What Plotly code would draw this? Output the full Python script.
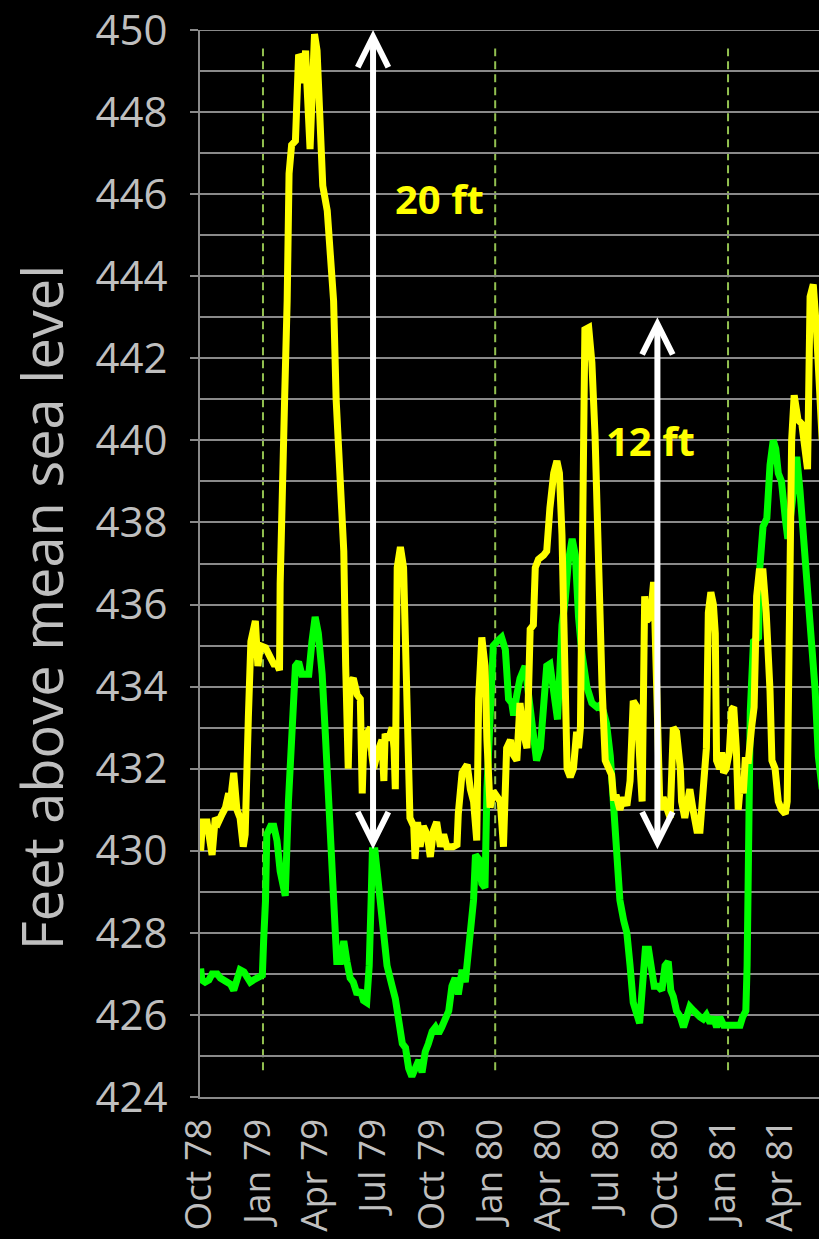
import pandas as pd
import plotly.graph_objects as go

# Day offsets from 1 Oct 1978 and lake levels (feet above mean sea level)
yellow_days = [-6, -3, 4, 12, 17, 22, 28, 33, 38, 41, 43, 46, 51, 56, 61, 64, 69, 73, 80, 82, 84, 88,
               96, 104, 109, 114, 118, 119, 122, 126, 130, 133, 137, 143, 148, 152, 155, 159, 161, 166,
               169, 173, 177, 182, 186, 193, 195, 203, 207, 214, 219, 222, 224, 226, 229, 234, 240, 245,
               248, 250, 255, 261, 263, 266, 272, 279, 282, 284, 289, 295, 298, 300, 303, 308, 313, 318,
               323, 329, 331, 335, 339, 344, 350, 355, 360, 365, 371, 376, 381, 386, 391, 397, 399, 405,
               413, 418, 423, 428, 431, 436, 441, 444, 446, 449, 454, 460, 465, 470, 475, 481, 483, 491,
               496, 501, 507, 512, 517, 520, 525, 533, 538, 543, 549, 554, 558, 562, 567, 570, 575, 580,
               585, 588, 591, 595, 598, 604, 609, 614, 619, 625, 630, 635, 640, 643, 648, 653, 659, 664,
               669, 674, 680, 685, 688, 692, 695, 701, 706, 708, 712, 716, 721, 727, 732, 737, 742, 748,
               750, 755, 763, 768, 774, 779, 784, 789, 792, 796, 800, 803, 805, 810, 813, 816, 820, 825,
               829, 832, 836, 839, 843, 847, 850, 855, 860, 864, 868, 872, 878, 883, 889, 892, 897, 902,
               907, 913, 916, 919, 923, 927, 931, 933, 939, 944, 948, 952, 957, 962, 965, 971]
yellow_level = [430.0, 430.7, 430.7, 429.9, 430.8, 430.7, 430.9, 431.05, 431.4, 431.0, 431.5, 431.9,
                431.0, 430.8, 430.1, 430.4, 433.25, 435.1, 435.6, 435.1, 434.5, 435.0, 434.95, 434.7,
                434.55, 434.55, 434.4, 436.5, 438.0, 441.0, 443.4, 446.5, 447.2, 447.3, 449.4, 449.3,
                448.7, 449.5, 448.7, 447.1, 448.3, 449.9, 449.5, 447.4, 446.2, 445.6, 445.0, 443.4,
                441.0, 438.5, 437.3, 434.5, 432.0, 432.0, 434.1, 434.2, 433.8, 433.7, 431.4, 432.4,
                432.85, 433.0, 432.35, 432.0, 432.4, 432.7, 431.7, 432.85, 432.7, 433.0, 432.5, 431.5,
                436.9, 437.4, 436.9, 434.5, 430.8, 430.6, 429.8, 430.7, 430.1, 430.6, 430.4, 429.85,
                430.5, 430.7, 430.1, 430.4, 430.1, 430.1, 430.1, 430.15, 430.9, 431.9, 432.1, 431.5,
                431.2, 430.25, 433.7, 435.2, 434.5, 432.7, 432.0, 431.05, 431.45, 431.3, 431.2, 430.1,
                432.5, 432.7, 432.4, 432.2, 433.6, 432.9, 432.5, 435.4, 435.5, 436.9, 437.1, 437.2,
                437.3, 438.35, 439.2, 439.5, 439.2, 437.7, 434.45, 432.0, 431.8, 432.0, 432.9, 432.5,
                433.0, 440.1, 442.7, 442.75, 441.9, 440.1, 436.9, 434.0, 432.2, 432.0, 431.85, 431.3,
                431.3, 431.0, 431.3, 431.1, 431.7, 433.65, 433.5, 432.0, 431.2, 436.2, 435.6, 435.7,
                436.55, 435.6, 433.0, 431.0, 431.3, 431.05, 430.8, 433.0, 432.9, 432.0, 431.2, 430.8,
                431.5, 431.0, 430.5, 430.5, 431.4, 432.5, 435.8, 436.3, 436.0, 435.3, 432.2, 432.0,
                432.4, 431.9, 432.0, 432.4, 433.45, 433.5, 432.5, 431.0, 431.7, 431.4, 432.2, 432.2,
                433.0, 433.5, 436.2, 436.8, 436.8, 435.8, 433.9, 432.2, 432.0, 431.2, 431.0, 430.9,
                431.2, 436.2, 440.0, 441.1, 440.8, 440.5, 440.4, 439.8, 439.3, 443.5, 443.8, 442.7,
                441.5, 440.0]

green_days = [-6, -4, 1, 7, 12, 20, 25, 30, 36, 41, 46, 51, 56, 62, 67, 72, 77, 83, 91, 93, 96, 98,
              104, 109, 114, 119, 124, 127, 132, 138, 143, 148, 153, 159, 164, 169, 174, 179, 185, 190,
              195, 200, 204, 208, 214, 219, 224, 229, 234, 240, 245, 250, 255, 259, 262, 264, 268, 273,
              276, 282, 287, 295, 300, 305, 311, 316, 321, 326, 331, 337, 342, 347, 352, 358, 363, 368,
              373, 378, 384, 389, 394, 399, 405, 410, 415, 420, 423, 426, 431, 436, 441, 444, 449, 454,
              460, 467, 473, 478, 483, 486, 491, 496, 504, 509, 517, 522, 528, 533, 538, 543, 549, 555,
              559, 562, 567, 572, 578, 583, 588, 593, 601, 609, 617, 622, 627, 632, 638, 643, 648, 653,
              659, 664, 669, 674, 680, 684, 687, 693, 698, 703, 707, 713, 719, 724, 729, 733, 737, 742,
              748, 753, 758, 763, 769, 774, 779, 784, 789, 795, 800, 805, 810, 816, 821, 826, 831, 837,
              842, 846, 851, 853, 855, 858, 863, 871, 873, 878, 884, 886, 889, 894, 898, 902, 907, 913,
              917, 924, 931, 936, 941, 947, 954, 960, 965, 971]
green_level = [427.13, 426.85, 426.8, 426.85, 427.0, 427.0, 426.9, 426.85, 426.8, 426.75, 426.6, 426.85,
               427.1, 427.05, 426.95, 426.8, 426.85, 426.9, 426.97, 427.8, 428.8, 430.4, 430.6, 430.6,
               430.25, 429.5, 429.1, 428.9, 431.2, 432.85, 434.5, 434.6, 434.3, 434.3, 434.3, 435.1,
               435.7, 435.3, 434.3, 432.85, 431.2, 429.6, 428.6, 427.3, 427.3, 427.8, 427.3, 426.9,
               426.8, 426.5, 426.6, 426.35, 426.3, 427.2, 428.8, 430.0, 430.0, 429.3, 428.8, 427.8,
               427.2, 426.7, 426.4, 425.9, 425.3, 425.2, 424.7, 424.5, 424.7, 424.9, 424.6, 425.1,
               425.3, 425.6, 425.7, 425.55, 425.7, 425.9, 426.1, 426.7, 426.9, 426.5, 427.1, 426.8,
               427.5, 428.0, 428.8, 429.9, 429.8, 429.2, 429.1, 431.5, 433.6, 435.0, 435.1, 435.2,
               434.9, 433.7, 433.6, 433.3, 433.8, 434.2, 434.5, 433.8, 432.8, 432.2, 432.5, 433.65,
               434.5, 434.55, 434.0, 433.2, 434.5, 435.5, 436.1, 437.05, 437.6, 437.2, 435.7, 434.85,
               434.0, 433.6, 433.5, 433.55, 433.4, 433.1, 432.3, 431.2, 430.0, 428.8, 428.3, 428.0,
               427.2, 426.3, 426.0, 425.8, 426.4, 427.6, 427.6, 427.0, 426.7, 426.7, 426.6, 427.2,
               427.3, 426.6, 426.45, 426.1, 425.95, 425.7, 425.9, 426.2, 426.1, 426.0, 425.95, 425.9,
               426.0, 425.8, 425.95, 425.7, 425.95, 425.75, 425.75, 425.75, 425.75, 425.75, 425.75,
               425.95, 426.1, 427.2, 430.5, 433.4, 435.1, 435.2, 436.9, 437.9, 438.1, 438.9, 439.4,
               440.0, 439.8, 439.2, 439.0, 438.1, 437.6, 438.5, 439.6, 438.8, 437.8, 436.2, 434.8,
               433.9, 432.3, 431.5]

range_days = [-7, 966]
y_range = [424, 450]
y_ticks = [424, 426, 428, 430, 432, 434, 436, 438, 440, 442, 444, 446, 448, 450]
year_marks = ["1979-01-01", "1980-01-01", "1981-01-01"]
arrows = [  # (date, low, high, label, label_date, label_y)
    ("1979-06-23", 430, 450, "20 ft", "1979-10-06", 445.9),
    ("1980-09-12", 430, 443, "12 ft", "1980-09-01", 440.0),
]

base = pd.Timestamp("1978-10-01")
yd = base + pd.to_timedelta(yellow_days, unit="D")
gd = base + pd.to_timedelta(green_days, unit="D")
xr = [base + pd.Timedelta(days=range_days[0]), base + pd.Timedelta(days=range_days[1])]

GRID = "#8a8a8a"
LABEL = "#bfbfbf"
FONT = "Open Sans"

fig = go.Figure()
fig.add_trace(go.Scatter(x=gd, y=green_level, mode="lines",
                         line=dict(color="#00ff00", width=7), showlegend=False))
fig.add_trace(go.Scatter(x=yd, y=yellow_level, mode="lines",
                         line=dict(color="#ffff00", width=7), showlegend=False))

# top gridline of the value axis
fig.add_shape(type="line", xref="paper", yref="y", x0=0, x1=1, y0=y_range[1], y1=y_range[1],
              line=dict(color=GRID, width=2), layer="below")

for d in year_marks:
    fig.add_shape(type="line", xref="x", yref="y", x0=d, x1=d, y0=424.65, y1=449.55,
                  line=dict(color="#92c050", width=2, dash="8px,5px"), layer="below")

for (d, lo, hi, lab, ld, ly) in arrows:
    fig.add_annotation(x=ld, y=ly, xref="x", yref="y", text="<b>%s</b>" % lab,
                       showarrow=False, font=dict(family=FONT, size=40, color="#ffff00"))
for (d, lo, hi, lab, ld, ly) in arrows:
    fig.add_annotation(x=d, y=hi, ax=d, ay=lo, xref="x", yref="y", axref="x", ayref="y",
                       text="", showarrow=True, arrowhead=5, startarrowhead=5,
                       arrowside="end+start", arrowwidth=6, arrowsize=1, startarrowsize=1,
                       arrowcolor="#ffffff")

fig.add_annotation(text="Feet above mean sea level", xref="paper", yref="paper",
                   x=-0.257, y=0.459, xanchor="center", yanchor="middle", textangle=-90,
                   showarrow=False, font=dict(family=FONT, size=56, color=LABEL))

fig.update_layout(
    width=819, height=1239,
    paper_bgcolor="black", plot_bgcolor="black",
    margin=dict(l=200, r=0, t=28, b=142),
    xaxis=dict(range=xr, type="date", tick0="1978-10-01", dtick="M3", tickformat="%b %y",
               tickangle=-90, tickfont=dict(family=FONT, size=37, color=LABEL),
               showgrid=False, zeroline=False, showline=True, linecolor=GRID, linewidth=2,
               ticks="", ticklabelstandoff=5, ticklabelshift=-5, ticklabeloverflow="allow"),
    yaxis=dict(range=y_range, tickmode="array", tickvals=y_ticks,
               tickfont=dict(family=FONT, size=42, color=LABEL),
               showgrid=True, gridcolor=GRID, gridwidth=2, zeroline=False,
               showline=True, linecolor=GRID, linewidth=2, ticklabeloverflow="allow",
               ticks="outside", ticklen=8, tickcolor=GRID, tickwidth=2, ticklabelstandoff=14,
               minor=dict(dtick=1, tick0=424, showgrid=True, gridcolor=GRID, gridwidth=2)),
)

fig.write_html("out.html", config={"displayModeBar": False},
               post_script="document.body.style.margin='0px';")
